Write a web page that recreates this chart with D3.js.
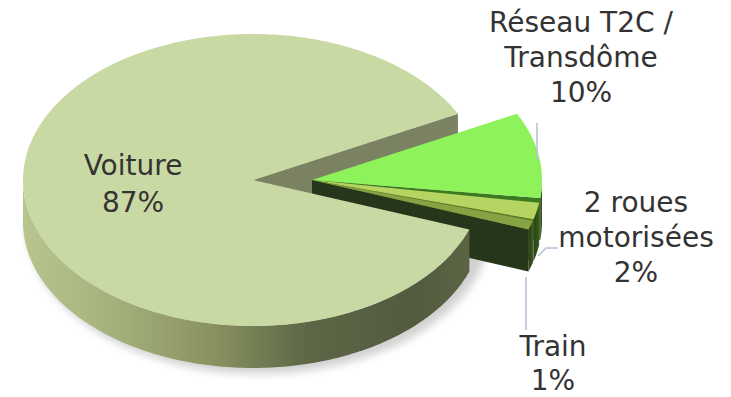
<!DOCTYPE html>
<html>
<head>
<meta charset="utf-8">
<script src="https://cdnjs.cloudflare.com/ajax/libs/d3/7.8.5/d3.min.js"></script>
<style>
  html, body { margin: 0; padding: 0; background: #ffffff; }
  svg { display: block; }
</style>
</head>
<body>
<svg id="chart" width="731" height="397"></svg>
<script>
// ---- data ----
const categories = ["Voiture", "Réseau T2C / Transdôme", "2 roues motorisées", "Train"];
const values = [87, 10, 2, 1];
const exploded = [false, true, true, true];
const labelLines = [["Voiture"], ["Réseau T2C /", "Transdôme"], ["2 roues", "motorisées"], ["Train"]];

// ---- style / layout ----
const rx = 230, ry = 146, depth = 42;
const mainCenter = [253, 180];
const explodeOffset = [59, 0];
const topColors = ["#c9d9a4", "#8ef25b", "#b6d462", "#86a343"];
const radialColors = ["#7b8262", "#3c7a20", "#5a7a2a", "#26361a"];
const deg = Math.PI / 180;
const topPad = [0, 1.9 * deg, 0.6 * deg, 0];

const svg = d3.select("#chart");
const defs = svg.append("defs");

const gMain = defs.append("linearGradient").attr("id", "rimMain")
  .attr("gradientUnits", "userSpaceOnUse")
  .attr("x1", mainCenter[0] - rx).attr("x2", mainCenter[0] + rx).attr("y1", 0).attr("y2", 0);
[[0, "#b8c58e"], [0.2, "#a5b17b"], [0.42, "#87915f"], [0.62, "#5d6646"], [0.85, "#535b3f"], [1, "#5d6646"]]
  .forEach(([o, c]) => gMain.append("stop").attr("offset", o).attr("stop-color", c));

const gExp = defs.append("linearGradient").attr("id", "rimExp")
  .attr("x1", 0).attr("x2", 1).attr("y1", 0).attr("y2", 0);
[[0, "#2a3d18"], [1, "#3b5a20"]]
  .forEach(([o, c]) => gExp.append("stop").attr("offset", o).attr("stop-color", c));

const blur = defs.append("filter").attr("id", "soft").attr("x", "-20%").attr("y", "-20%").attr("width", "140%").attr("height", "140%");
blur.append("feGaussianBlur").attr("stdDeviation", 4);

// ---- pie layout (d3 angles clockwise from 12 o'clock) ----
const start = 109.8 * deg;
const pie = d3.pie().sort(null).startAngle(start).endAngle(start + 2 * Math.PI);
const arcs = pie(values);

// convert to math angles (counter-clockwise from +x)
const slices = arcs.map((d, i) => ({
  i,
  hi: Math.PI / 2 - d.startAngle,
  lo: Math.PI / 2 - d.endAngle + topPad[i],
  c: exploded[i] ? [mainCenter[0] + explodeOffset[0], mainCenter[1] + explodeOffset[1]] : mainCenter
}));

function P(c, a, z) { return [c[0] + rx * Math.cos(a), c[1] - ry * Math.sin(a) + (z || 0)]; }
function arcPts(c, a0, a1, z) {
  const n = Math.max(2, Math.ceil(Math.abs(a1 - a0) / (1 * deg)));
  const pts = [];
  for (let k = 0; k <= n; k++) pts.push(P(c, a0 + (a1 - a0) * k / n, z));
  return pts;
}
const line = d3.line();
const closed = pts => line(pts) + "Z";

function topPath(s) {
  return closed([s.c].concat(arcPts(s.c, s.hi, s.lo, 0)));
}
function rimPaths(s) {
  const out = [];
  for (let k = -2; k <= 2; k++) {
    const lo = (2 * k - 1) * Math.PI, hi = 2 * k * Math.PI;
    const a = Math.max(s.lo, lo), b = Math.min(s.hi, hi);
    if (a < b) out.push(closed(arcPts(s.c, a, b, 0).concat(arcPts(s.c, b, a, depth))));
  }
  return out;
}
function radialPath(s, t) {
  return closed([s.c, P(s.c, t, 0), P(s.c, t, depth), [s.c[0], s.c[1] + depth]]);
}
function radialFaces(s) {
  const f = [];
  if (Math.cos(s.hi) < 0) f.push(s.hi);
  if (Math.cos(s.lo) > 0) f.push(s.lo);
  return f;
}

const main = slices.filter(s => !exploded[s.i]);
const exp = slices.filter(s => exploded[s.i]);

// soft shadow under the pie
svg.append("ellipse")
  .attr("cx", mainCenter[0] + 6).attr("cy", mainCenter[1] + depth + 4)
  .attr("rx", rx + 2).attr("ry", ry + 2)
  .attr("fill", "#000").attr("opacity", 0.18).attr("filter", "url(#soft)");

// 1. radial faces of main slice
main.forEach(s => radialFaces(s).forEach(t =>
  svg.append("path").attr("d", radialPath(s, t)).attr("fill", radialColors[s.i])));

// 2. exploded group: radial faces (back to front), rims, tops
const expFaces = [];
exp.forEach(s => radialFaces(s).forEach(t => expFaces.push({ s, t })));
expFaces.sort((a, b) => b.t - a.t).forEach(f =>
  svg.append("path").attr("d", radialPath(f.s, f.t)).attr("fill", radialColors[f.s.i]));
exp.forEach(s => rimPaths(s).forEach(d =>
  svg.append("path").attr("d", d).attr("fill", "url(#rimExp)")));
exp.forEach(s =>
  svg.append("path").attr("d", topPath(s)).attr("fill", topColors[s.i]));

// 3. main rim and top
main.forEach(s => rimPaths(s).forEach(d =>
  svg.append("path").attr("d", d).attr("fill", "url(#rimMain)")));
main.forEach(s =>
  svg.append("path").attr("d", topPath(s)).attr("fill", topColors[s.i]));

// ---- leader lines ----
const leaderColor = "#b6c2d5";
const leaders = [
  null,
  [[537, 123], [537, 160]],
  [[558, 248], [546, 248], [538, 256]],
  [[526, 277], [526, 330]]
];
leaders.forEach(pts => {
  if (!pts) return;
  svg.append("path").attr("d", line(pts)).attr("fill", "none")
    .attr("stroke", leaderColor).attr("stroke-width", 1.6);
});

// ---- labels ----
const labelPos = [[133, 175], [581, 32], [636, 212], [553, 356]];
const lineGap = [37, 35, 35, 34];
categories.forEach((cat, i) => {
  const lines = labelLines[i].concat([values[i] + "%"]);
  const t = svg.append("text")
    .attr("x", labelPos[i][0]).attr("y", labelPos[i][1])
    .attr("text-anchor", "middle")
    .attr("font-family", "'DejaVu Sans', sans-serif")
    .attr("font-size", 28)
    .attr("fill", "#333333");
  lines.forEach((l, k) => t.append("tspan")
    .attr("x", labelPos[i][0]).attr("y", labelPos[i][1] + k * lineGap[i]).text(l));
});
</script>
</body>
</html>
